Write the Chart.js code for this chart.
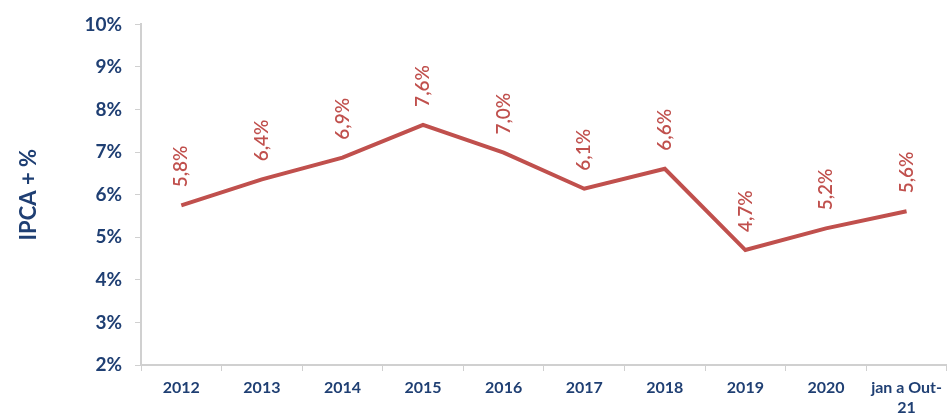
<!DOCTYPE html>
<html>
<head>
<meta charset="utf-8">
<script src="https://cdn.jsdelivr.net/npm/chart.js@4.4.1/dist/chart.umd.min.js"></script>
<style>
  html, body { margin: 0; padding: 0; background: #fff; }
  #wrap { width: 949px; height: 418px; position: relative; }
</style>
</head>
<body>
<div id="wrap"><canvas id="ipcaChart"></canvas></div>
<script>
const categories = ['2012', '2013', '2014', '2015', '2016', '2017', '2018', '2019', '2020', ['jan a Out-', '21']];
const ipcaValues = [5.75, 6.36, 6.87, 7.64, 6.99, 6.14, 6.61, 4.70, 5.21, 5.61];
const yTicks = [2, 3, 4, 5, 6, 7, 8, 9, 10];

const fontStack = "Lato, 'Open Sans', sans-serif";
const navy = '#1F3F73';
const red = '#C0504D';

// rotated value labels above each point
const rotatedLabels = {
  id: 'rotatedLabels',
  afterDatasetsDraw(chart) {
    const ctx = chart.ctx;
    const meta = chart.getDatasetMeta(0);
    ctx.save();
    ctx.fillStyle = red;
    ctx.font = "600 19px " + fontStack;
    ctx.textAlign = 'left';
    ctx.textBaseline = 'middle';
    meta.data.forEach((pt, i) => {
      const txt = ipcaValues[i].toFixed(1).replace('.', ',') + '%';
      ctx.save();
      ctx.translate(pt.x, pt.y - 18);
      ctx.rotate(-Math.PI / 2);
      ctx.fillText(txt, 0, 0);
      ctx.restore();
    });
    ctx.restore();
  }
};

const ctx = document.getElementById('ipcaChart').getContext('2d');
new Chart(ctx, {
  type: 'line',
  data: {
    labels: categories,
    datasets: [{
      data: ipcaValues,
      borderColor: red,
      borderWidth: 4,
      pointRadius: 0,
      tension: 0,
      fill: false
    }]
  },
  options: {
    responsive: true,
    maintainAspectRatio: false,
    animation: false,
    layout: { padding: { left: 16, top: 5, right: 0, bottom: 0 } },
    plugins: {
      legend: { display: false },
      tooltip: { enabled: false }
    },
    scales: {
      x: {
        offset: true,
        grid: {
          offset: true,
          drawOnChartArea: false,
          drawTicks: true,
          tickLength: 6,
          color: '#D0D0D0'
        },
        border: { color: '#D0D0D0', width: 2 },
        ticks: {
          color: navy,
          font: { family: fontStack, size: 16, weight: 'bold', lineHeight: 1.25 },
          maxRotation: 0,
          autoSkip: false,
          padding: 7
        },
        afterFit(scale) { scale.height = 53; }
      },
      y: {
        min: 2,
        max: 10,
        afterBuildTicks(scale) { scale.ticks = yTicks.map(v => ({ value: v })); },
        grid: {
          drawOnChartArea: false,
          drawTicks: true,
          tickLength: 6,
          color: '#D0D0D0'
        },
        border: { color: '#D0D0D0', width: 2 },
        ticks: {
          color: navy,
          font: { family: fontStack, size: 19, weight: 'bold' },
          padding: 13,
          callback: v => v + '%'
        },
        title: {
          display: true,
          text: 'IPCA + %',
          color: navy,
          font: { family: fontStack, size: 22, weight: 'bold' },
          padding: { top: 0, bottom: 0 }
        },
        afterFit(scale) { scale.width = 125; }
      }
    }
  },
  plugins: [rotatedLabels]
});
</script>
</body>
</html>
